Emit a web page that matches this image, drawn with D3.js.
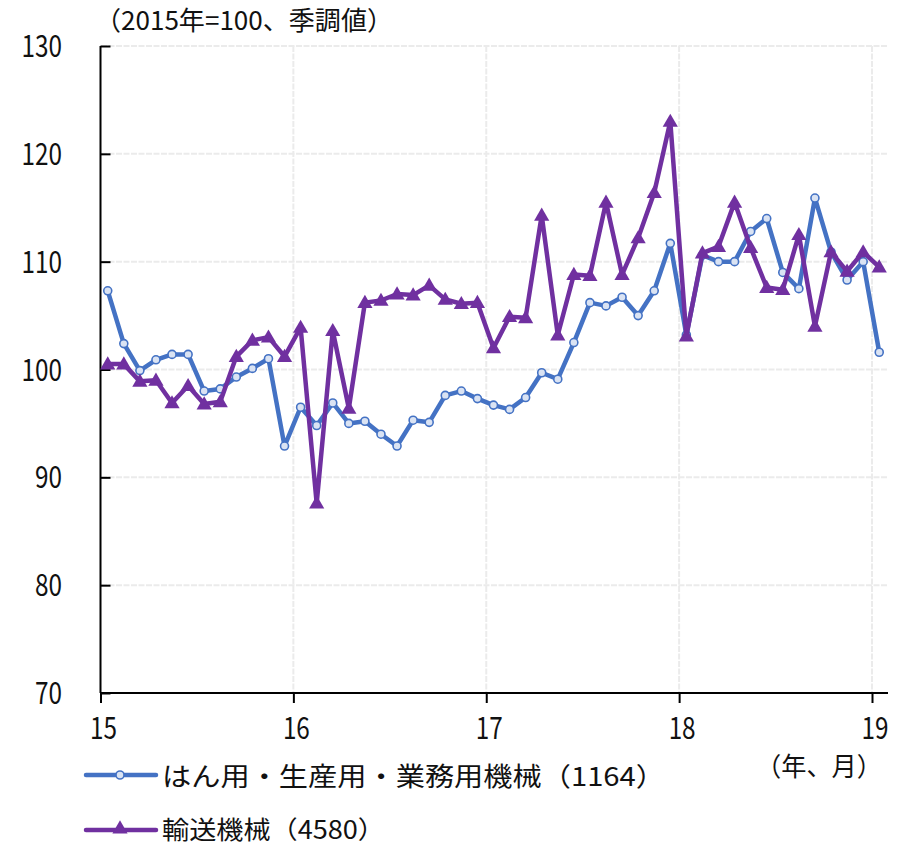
<!DOCTYPE html>
<html>
<head>
<meta charset="utf-8">
<script src="https://cdn.jsdelivr.net/npm/d3@7"></script>
<style>
  html, body { margin: 0; padding: 0; background: #fff; }
  svg { display: block; }
  text { font-family: "Noto Sans CJK JP", "Noto Sans", sans-serif; fill: #111; }
</style>
</head>
<body>
<svg id="chart" width="908" height="848"></svg>
<script>
// ---- data ----
const months = [
  "2015/01","2015/02","2015/03","2015/04","2015/05","2015/06","2015/07","2015/08","2015/09","2015/10","2015/11","2015/12",
  "2016/01","2016/02","2016/03","2016/04","2016/05","2016/06","2016/07","2016/08","2016/09","2016/10","2016/11","2016/12",
  "2017/01","2017/02","2017/03","2017/04","2017/05","2017/06","2017/07","2017/08","2017/09","2017/10","2017/11","2017/12",
  "2018/01","2018/02","2018/03","2018/04","2018/05","2018/06","2018/07","2018/08","2018/09","2018/10","2018/11","2018/12",
  "2019/01"
];
const generalMachinery = [
  107.3, 102.4, 99.9, 100.9, 101.4, 101.4, 98.0, 98.2, 99.3, 100.1, 101.0, 92.9,
  96.5, 94.8, 96.9, 95.0, 95.2, 94.0, 92.9, 95.3, 95.1, 97.6, 98.0, 97.3,
  96.7, 96.3, 97.4, 99.7, 99.1, 102.5, 106.2, 105.9, 106.7, 105.0, 107.3, 111.7,
  103.2, 110.6, 110.0, 110.0, 112.8, 114.0, 109.0, 107.5, 115.9, 110.9, 108.3, 110.0,
  101.6
];
const transportMachinery = [
  100.5, 100.5, 98.9, 99.0, 96.9, 98.5, 96.8, 97.0, 101.2, 102.7, 103.0, 101.2,
  103.9, 87.6, 103.6, 96.4, 106.2, 106.4, 107.0, 106.9, 107.8, 106.5, 106.1, 106.2,
  102.0, 104.9, 104.8, 114.3, 103.2, 108.8, 108.7, 115.5, 108.8, 112.2, 116.4, 123.0,
  103.1, 110.8, 111.4, 115.5, 111.3, 107.6, 107.4, 112.5, 104.0, 110.9, 109.1, 110.9,
  109.5
];
const seriesNames = ["はん用・生産用・業務用機械（1164）", "輸送機械（4580）"];
const yTicks = [70, 80, 90, 100, 110, 120, 130];
const xTicks = [2015, 2016, 2017, 2018, 2019];
const unitLabel = "（2015年=100、季調値）";
const xUnitLabel = "（年、月）";

// ---- chart ----
const svg = d3.select("#chart");
const blue = "#4472C4", purple = "#7030A0";

const x = d3.scaleLinear().domain([2015, 2019]).range([100.5, 872]);
const y = d3.scaleLinear().domain([70, 130]).range([693, 46]);
const monthPos = m => { const [yy, mm] = m.split("/").map(Number); return yy + (mm - 0.55) / 12; };

// grid
const grid = svg.append("g");
grid.selectAll("line.h").data(yTicks.filter(v => v > 70)).join("line")
  .attr("x1", 101).attr("x2", 888).attr("y1", d => y(d)).attr("y2", d => y(d))
  .attr("stroke", "#ebebeb").attr("stroke-width", 2).attr("stroke-dasharray", "6,1.5");
grid.selectAll("line.v").data(xTicks.filter(v => v > 2015)).join("line")
  .attr("x1", d => x(d)).attr("x2", d => x(d)).attr("y1", 46).attr("y2", 692)
  .attr("stroke", "#ebebeb").attr("stroke-width", 2).attr("stroke-dasharray", "6,1.5");

// y axis
const yAxis = d3.axisRight(y).tickValues(yTicks).tickSize(10).tickFormat("");
const yg = svg.append("g").attr("transform", "translate(100.5,0)").call(yAxis);
yg.select(".domain").attr("stroke", "#000").attr("stroke-width", 2).attr("d", `M0,${y(130)}V${y(70)}`);
yg.selectAll(".tick line").attr("stroke", "#000").attr("stroke-width", 2);
svg.append("g").selectAll("text").data(yTicks).join("text")
  .attr("x", 62).attr("y", d => y(d) + 11)
  .attr("text-anchor", "end").attr("font-size", 30)
  .attr("textLength", d => String(d).length * 13.5).attr("lengthAdjust", "spacingAndGlyphs")
  .text(d => d);

// x axis
const xAxis = d3.axisBottom(x).tickValues(xTicks).tickSize(10).tickFormat("");
const xg = svg.append("g").attr("transform", "translate(0,693)").call(xAxis);
xg.select(".domain").attr("stroke", "#000").attr("stroke-width", 2).attr("d", `M100.5,0H888`);
xg.selectAll(".tick line").attr("stroke", "#000").attr("stroke-width", 2);
svg.append("g").selectAll("text").data(xTicks).join("text")
  .attr("x", d => x(d) + 3).attr("y", 739)
  .attr("text-anchor", "middle").attr("font-size", 30)
  .attr("textLength", 27).attr("lengthAdjust", "spacingAndGlyphs")
  .text(d => String(d).slice(2));

// unit labels
svg.append("text").attr("x", 95).attr("y", 30).attr("font-size", 26)
  .attr("textLength", 298).attr("lengthAdjust", "spacingAndGlyphs").text(unitLabel);
svg.append("text").attr("x", 756).attr("y", 776).attr("font-size", 26)
  .attr("textLength", 126).attr("lengthAdjust", "spacingAndGlyphs").text(xUnitLabel);

// lines
const line = d3.line().x((d, i) => x(monthPos(months[i]))).y(d => y(d));

svg.append("path").datum(generalMachinery).attr("d", line)
  .attr("fill", "none").attr("stroke", blue).attr("stroke-width", 4.5).attr("stroke-linejoin", "round");
svg.append("g").selectAll("circle").data(generalMachinery).join("circle")
  .attr("cx", (d, i) => x(monthPos(months[i]))).attr("cy", d => y(d)).attr("r", 4)
  .attr("fill", "#dae3f3").attr("stroke", blue).attr("stroke-width", 1.6);

const tri = d3.symbol().type(d3.symbolTriangle).size(100);
svg.append("path").datum(transportMachinery).attr("d", line)
  .attr("fill", "none").attr("stroke", purple).attr("stroke-width", 4.5).attr("stroke-linejoin", "round");
svg.append("g").selectAll("path").data(transportMachinery).join("path")
  .attr("d", tri)
  .attr("transform", (d, i) => `translate(${x(monthPos(months[i]))},${y(d) + 1})`)
  .attr("fill", purple);

// legend
const lg = svg.append("g");
lg.append("line").attr("x1", 86).attr("x2", 156).attr("y1", 775).attr("y2", 775)
  .attr("stroke", blue).attr("stroke-width", 4.5).attr("stroke-linecap", "round");
lg.append("circle").attr("cx", 120).attr("cy", 775).attr("r", 4)
  .attr("fill", "#dae3f3").attr("stroke", blue).attr("stroke-width", 1.6);
lg.append("text").attr("x", 162).attr("y", 786).attr("font-size", 26)
  .attr("textLength", 503).attr("lengthAdjust", "spacingAndGlyphs").text(seriesNames[0]);

lg.append("line").attr("x1", 86).attr("x2", 156).attr("y1", 830).attr("y2", 830)
  .attr("stroke", purple).attr("stroke-width", 4.5).attr("stroke-linecap", "round");
lg.append("path").attr("d", tri).attr("transform", "translate(120,829)").attr("fill", purple);
lg.append("text").attr("x", 162).attr("y", 839).attr("font-size", 25)
  .attr("textLength", 223).attr("lengthAdjust", "spacingAndGlyphs").text(seriesNames[1]);
</script>
</body>
</html>
